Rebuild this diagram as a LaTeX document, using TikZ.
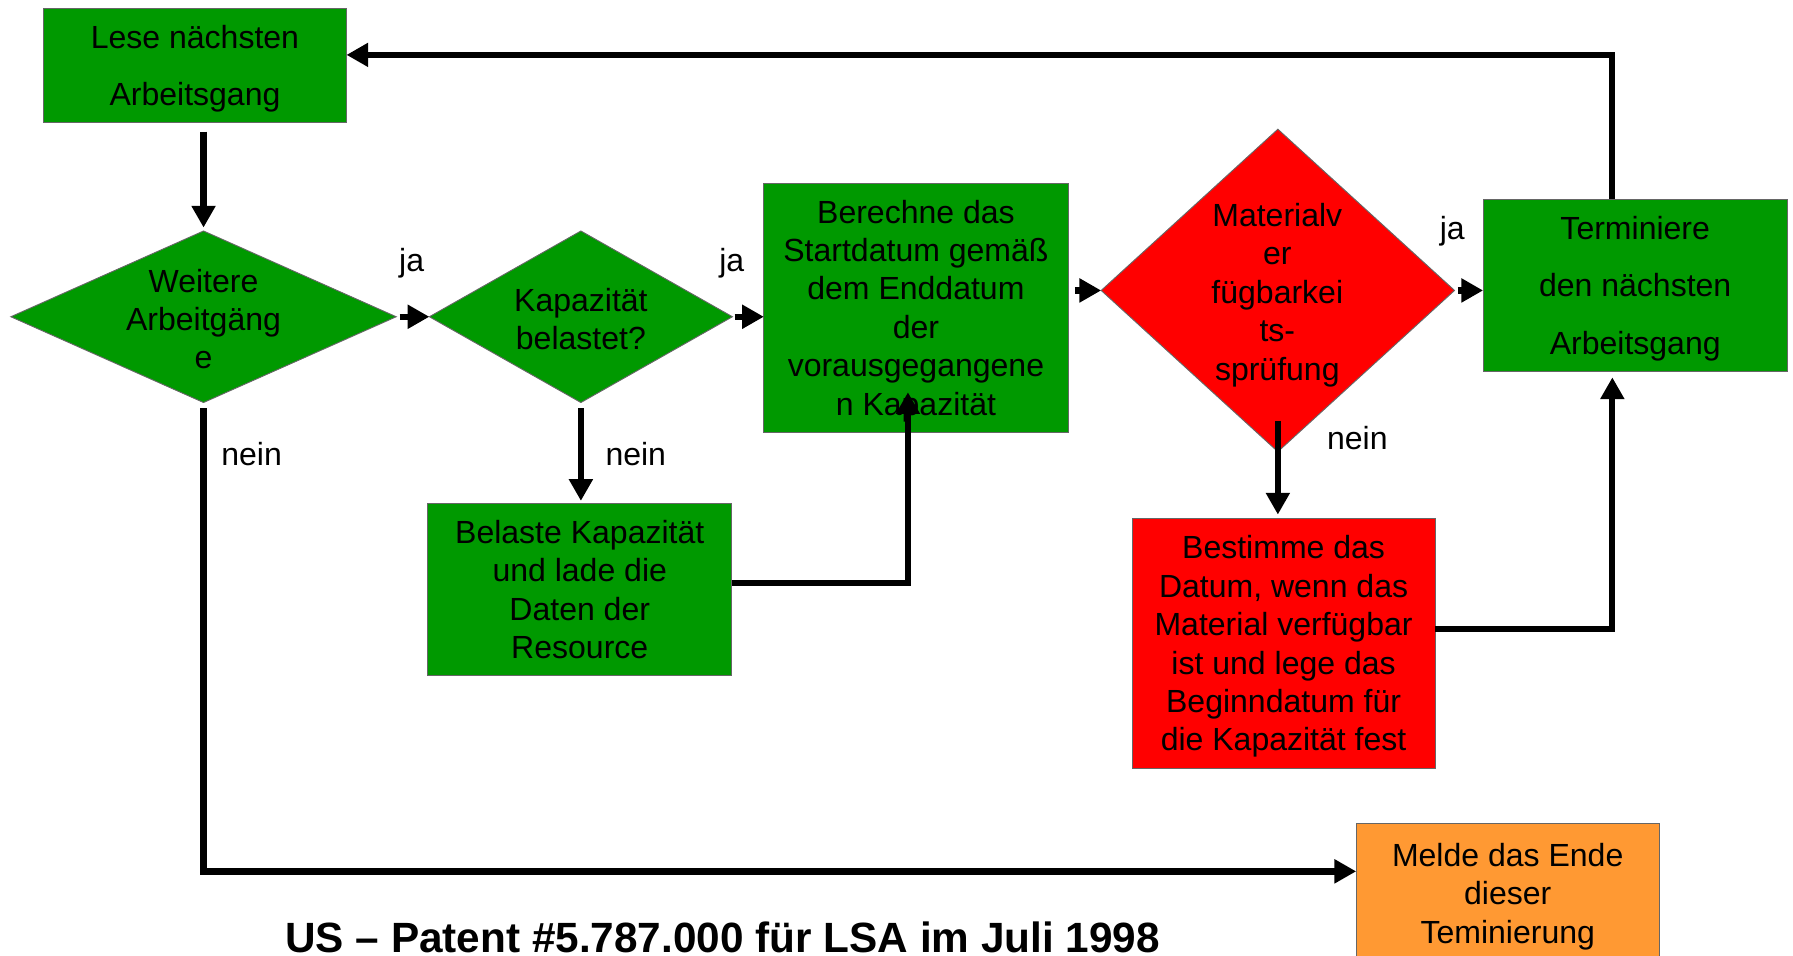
\documentclass[tikz,border=0pt]{standalone}
\usepackage{fontspec}
\setmainfont{Liberation Sans}
\usetikzlibrary{shapes.geometric,arrows.meta,positioning}
\definecolor{opgreen}{RGB}{0,153,0}
\definecolor{opred}{RGB}{255,0,0}
\definecolor{oporange}{RGB}{255,153,51}
\begin{document}
\begin{tikzpicture}[x=1pt,y=-1pt,->,>={Triangle[length=19pt,width=20pt]},
    box node/.style={rectangle,draw=black!60,line width=0.8pt,fill=opgreen,inner sep=0pt,outer sep=0pt,align=center,text depth=-2pt,font=\fontsize{28}{33.6}\selectfont},
    dec node/.style={diamond,draw=black!60,line width=0.8pt,fill=opgreen,inner sep=0pt,outer sep=0pt},
    text node/.style={align=center,inner sep=0pt,font=\fontsize{28}{33.6}\selectfont},
    flow/.style={line width=5.5pt}]
    \useasboundingbox (0,0) rectangle (1568,836);
    % boxes and decisions
    \node[box node,minimum width=265pt,minimum height=100pt] (lese) at (170.5,57) {Lese nächsten\\[16.4pt]Arbeitsgang};
    \node[dec node,minimum width=337pt,minimum height=150pt] (d1) at (178,277) {};
    \node[text node] (t1) at (178,279) {Weitere\\Arbeitgäng\\e};
    \node[dec node,minimum width=265pt,minimum height=150pt] (d2) at (508,277) {};
    \node[text node] (t2) at (508,279) {Kapazität\\belastet?};
    \node[box node,minimum width=266pt,minimum height=218pt] (berechne) at (801,269) {Berechne das\\Startdatum gemäß\\dem Enddatum\\der\\vorausgegangene\\n Kapazität};
    \node[dec node,fill=opred,minimum width=309pt,minimum height=282pt] (d3) at (1117.5,254) {};
    \node[text node] (t3) at (1117,258) {Materialv\\er\\fügbarkei\\ts-\\sprüfung};
    \node[box node,minimum width=266pt,minimum height=151pt] (term) at (1430,249.5) {Terminiere\\[16.4pt]den nächsten\\[16.4pt]Arbeitsgang};
    \node[box node,minimum width=266pt,minimum height=151pt] (belaste) at (507,515.5) {Belaste Kapazität\\und lade die\\Daten der\\Resource};
    \node[box node,fill=opred,minimum width=265pt,minimum height=219pt] (bestimme) at (1122.5,562.5) {Bestimme das\\Datum, wenn das\\Material verfügbar\\ist und lege das\\Beginndatum für\\die Kapazität fest};
    \node[box node,fill=oporange,minimum width=265pt,minimum height=122pt] (melde) at (1318.5,781) {Melde das Ende\\dieser\\Teminierung};
    % labels
    \node[text node] (ja1) at (360,230) {ja};
    \node[text node] (ja2) at (640,230) {ja};
    \node[text node] (ja3) at (1270,202) {ja};
    \node[text node] (nein1) at (220,397) {nein};
    \node[text node] (nein2) at (556,397) {nein};
    \node[text node] (nein3) at (1187,383) {nein};
    \node[anchor=base,inner sep=0pt,font=\fontsize{37}{44}\selectfont\bfseries] (title) at (632,833) {US – Patent \#5.787.000 für LSA im Juli 1998};
    % connectors
    \coordinate (back) at (1410,48);
    \coordinate (low) at (178,762);
    \coordinate (up1) at (794,510);
    \coordinate (up2) at (794,343);
    \coordinate (up3) at (1410,550);
    \draw[flow,shorten <=8pt,shorten >=3pt] (lese.south -| d1.north) -- (d1.north);
    \draw[flow,shorten <=3pt] (d1.east) -- (d2.west);
    \draw[flow,shorten <=2pt] (d2.east) -- (d2.east -| berechne.west);
    \draw[flow,shorten <=6pt] (berechne.east |- d3.west) -- (d3.west);
    \draw[flow,shorten <=3pt] (d3.east) -- (d3.east -| term.west);
    \draw[flow] (term.north -| back) |- (lese.east |- back);
    \draw[flow,shorten <=5pt] (d1.south) |- (melde.west |- low);
    \draw[flow,shorten <=5pt,shorten >=2pt] (d2.south) -- (d2.south |- belaste.north);
    \draw[flow] (belaste.east |- up1) -| (up2);
    \draw[flow,shorten >=3pt] ([yshift=27pt]d3.south) -- (d3.south |- bestimme.north);
    \draw[flow,shorten >=5pt] (bestimme.east |- up3) -| (term.south -| up3);
\end{tikzpicture}
\end{document}
